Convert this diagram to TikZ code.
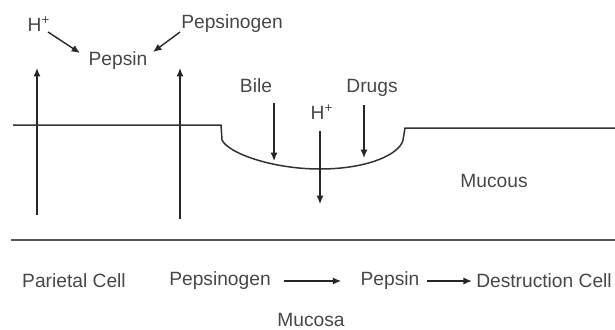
\documentclass[tikz,border=0pt]{standalone}
\usepackage{fontspec}
\setmainfont{Liberation Sans}
\usepackage{tikz}
\usetikzlibrary{arrows.meta,positioning}

\begin{document}
\begin{tikzpicture}[
    x=0.5pt, y=-0.5pt,
    font=\fontsize{9.6}{11}\selectfont, text=black!72,
    lbl/.style={inner sep=2pt},
    arr/.style={-{Latex[length=4.2pt,width=3.6pt]}, black!85, line width=0.7pt},
    wall/.style={black!80, line width=0.75pt}
  ]
    \useasboundingbox (0,0) rectangle (615,329);
    % top: formation of pepsin
    \node[lbl] (hplus) at (39,24) {H\textsuperscript{+}};
    \node[lbl] (pgtop) at (232,24) {Pepsinogen};
    \node[lbl] (pepsin) at (118,61) {Pepsin};
    \draw[arr] (48,32) -- (80,53);
    \draw[arr] (180,32) -- (153,52);

    % secretion from parietal cell and chief cell
    \coordinate (pc) at (37,215);
    \coordinate (pcup) at (37,68);
    \coordinate (cc) at (180,219);
    \coordinate (ccup) at (180,68);
    \draw[arr] (pc) -- (pcup);
    \draw[arr] (cc) -- (ccup);

    % mucosal surface with the crater
    \draw[wall] (13,125) -- (221,125) -- (222,140)
      .. controls (228,153) and (272,169) .. (320,169)
      .. controls (368,169) and (400,154) .. (403,140)
      -- (405,128) -- (615,128);

    \node[lbl] (bile) at (256,86) {Bile};
    \node[lbl] (drugs) at (372,88) {Drugs};
    \node[lbl] (hcrater) at (322,112) {H\textsuperscript{+}};
    \coordinate (bileend) at (274,161);
    \coordinate (drugsend) at (364,158);
    \coordinate (hdown) at (320,204);
    \draw[arr] (274,103) -- (bileend);
    \draw[arr] (364,105) -- (drugsend);
    \draw[arr] (320,131) -- (hdown);

    \node[lbl] (mucous) at (494,181) {Mucous};

    % base line of the mucosa
    \draw[black!65, line width=1.3pt] (11,240) -- (615,240);

    % bottom row
    \node[lbl] (parietal) at (74,281) {Parietal Cell};
    \node[lbl] (pgbot) at (220,281) {Pepsinogen};
    \node[lbl] (pepbot) at (390,281) {Pepsin};
    \node[lbl] (destr) at (544,281) {Destruction Cell};
    \draw[arr] ([xshift=4.5pt]pgbot.east) -- ([xshift=-7.5pt]pepbot.west);
    \draw[arr] ([xshift=1.5pt]pepbot.east) -- (destr.west);
    \node[lbl] (mucosa) at (311,320) {Mucosa};
  \end{tikzpicture}
\end{document}
